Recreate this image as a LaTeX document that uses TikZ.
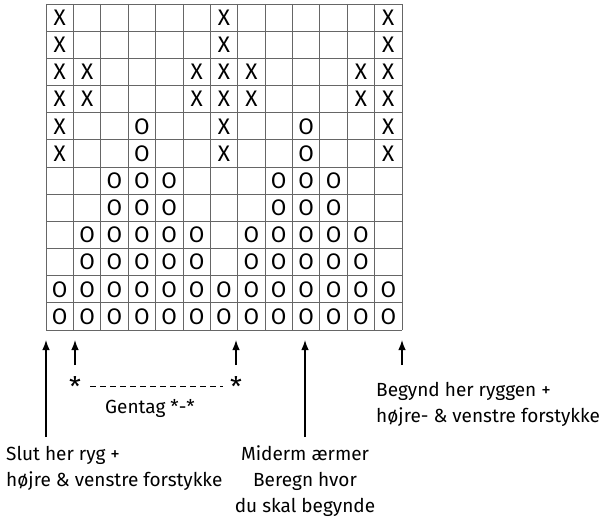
\documentclass[tikz,border=0pt]{standalone}
\usepackage{fontspec}
\setmainfont{Fira Sans}
\usetikzlibrary{arrows.meta}
\begin{document}
\begin{tikzpicture}[x=1pt,y=-1pt,
  gridline/.style={draw=black!60, line width=0.8pt},
  cellmark/.style={font=\fontsize{22.5}{22.5}\selectfont, inner sep=0pt},
  lbl/.style={font=\fontsize{19}{22}\selectfont, inner sep=0pt},
  star/.style={font=\fontsize{27}{27}\selectfont, inner sep=0pt},
  uparrow/.style={-{Latex[length=10pt,width=7.5pt]}, line width=1.3pt},
  repline/.style={line width=1pt, dash pattern=on 5.5pt off 4.5pt},
]
\useasboundingbox (0,0) rectangle (602,519);
\def\cw{27.3846}
\def\rh{27.1667}
% grid
\foreach \i in {0,...,13} \draw[gridline] ({46+\i*\cw},4) -- ({46+\i*\cw},330);
\foreach \j in {0,...,12} \draw[gridline] (46,{4+\j*\rh}) -- (402,{4+\j*\rh});
% marks
\foreach \r/\row in {
  1/{X,-,-,-,-,-,X,-,-,-,-,-,X},
  2/{X,-,-,-,-,-,X,-,-,-,-,-,X},
  3/{X,X,-,-,-,X,X,X,-,-,-,X,X},
  4/{X,X,-,-,-,X,X,X,-,-,-,X,X},
  5/{X,-,-,O,-,-,X,-,-,O,-,-,X},
  6/{X,-,-,O,-,-,X,-,-,O,-,-,X},
  7/{-,-,O,O,O,-,-,-,O,O,O,-,-},
  8/{-,-,O,O,O,-,-,-,O,O,O,-,-},
  9/{-,O,O,O,O,O,-,O,O,O,O,O,-},
  10/{-,O,O,O,O,O,-,O,O,O,O,O,-},
  11/{O,O,O,O,O,O,O,O,O,O,O,O,O},
  12/{O,O,O,O,O,O,O,O,O,O,O,O,O}} {
  \foreach \s [count=\c] in \row {
    \if\s-\else
      \node[cellmark] (m-\r-\c) at ({46+(\c-0.5)*\cw},{4+(\r-0.5)*\rh}) {\s};
    \fi
  }
}
% repeat marker
\node[star, anchor=base] (astL) at (75,396) {*};
\node[star, anchor=base] (astR) at (236,396) {*};
\draw[repline] ([xshift=15pt]astL.center) -- ([xshift=-13pt]astR.center);
\node[lbl, anchor=base] (gentag) at (150,413) {Gentag *-*};
% arrow targets and free ends
\coordinate (t0) at (46,340);
\coordinate (t1) at (75,340);
\coordinate (t2) at (236,340);
\coordinate (t3) at (305,340);
\coordinate (t4) at (402,340);
\coordinate (s0) at (46,437);
\coordinate (s1) at (75,365);
\coordinate (s2) at (236,365);
\coordinate (s3) at (305,437);
\coordinate (s4) at (402,365);
\draw[uparrow] (s0) -- (t0);
\draw[uparrow] (s1) -- (t1);
\draw[uparrow] (s2) -- (t2);
\draw[uparrow] (s3) -- (t3);
\draw[uparrow] (s4) -- (t4);
% labels
\node[lbl, anchor=base west] (slut1) at (6,460) {Slut her ryg +};
\node[lbl, anchor=base west] (slut2) at (6,486) {højre \& venstre forstykke};
\node[lbl, anchor=base] (mid1) at (305,460) {Miderm ærmer};
\node[lbl, anchor=base] (mid2) at (305,486) {Beregn hvor};
\node[lbl, anchor=base] (mid3) at (305,512) {du skal begynde};
\node[lbl, anchor=base west] (beg1) at (376,396) {Begynd her ryggen +};
\node[lbl, anchor=base west] (beg2) at (376,422) {højre- \& venstre forstykke};
\end{tikzpicture}
\end{document}
